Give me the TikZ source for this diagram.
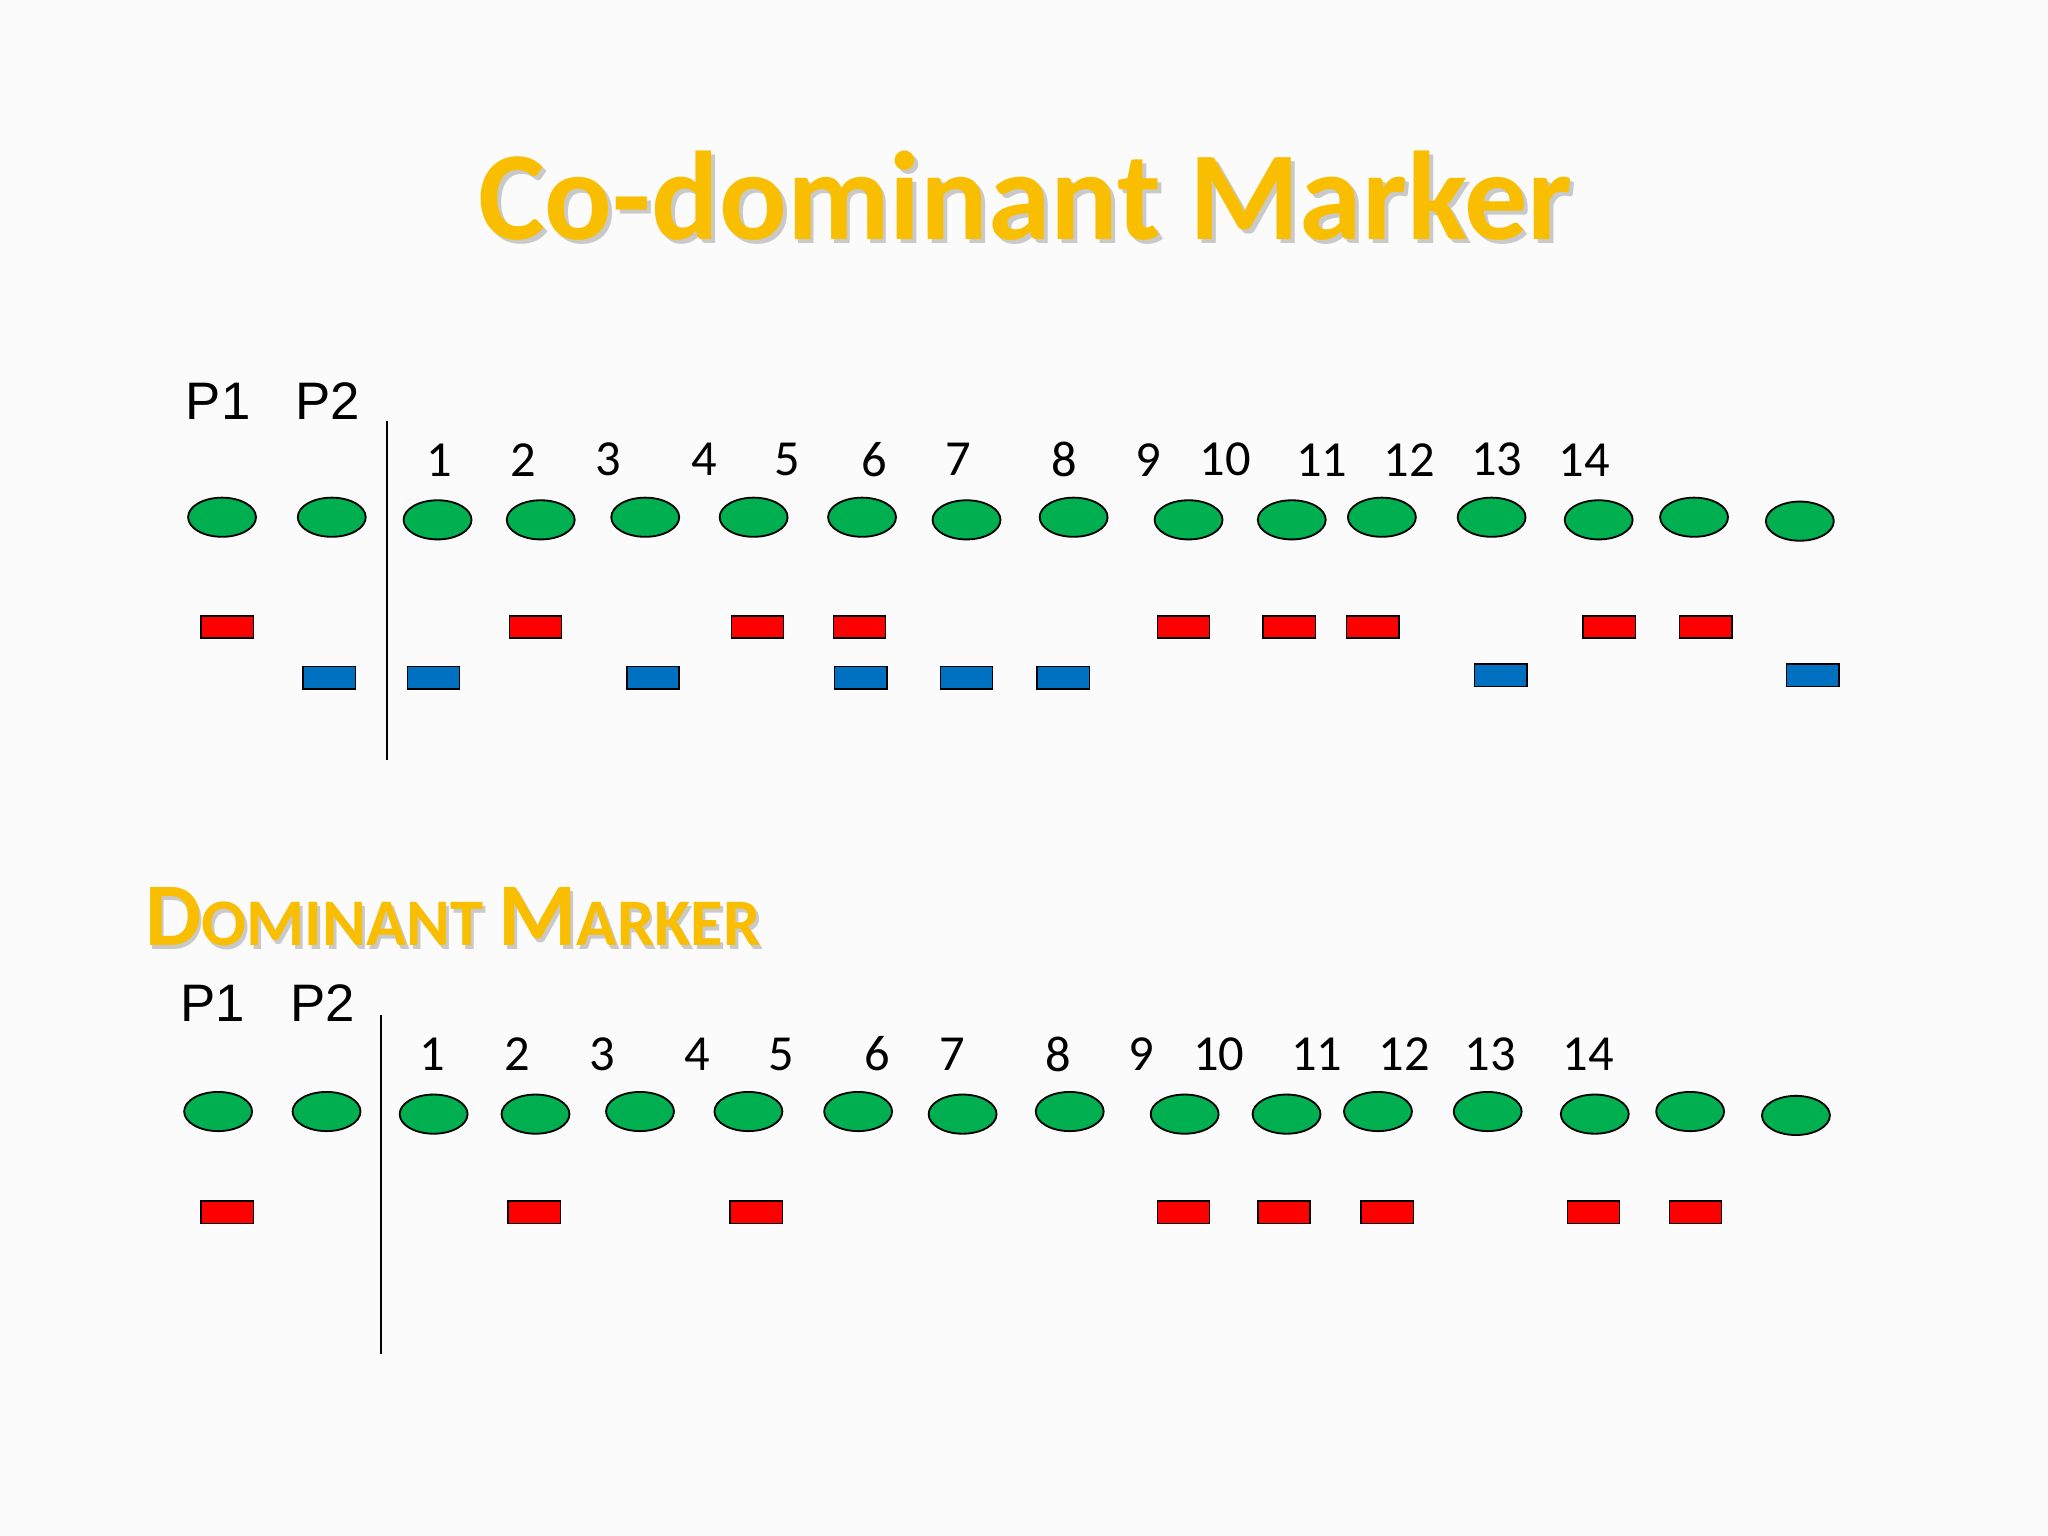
\documentclass[tikz,border=0pt]{standalone}
\usepackage{fontspec}
\usetikzlibrary{shapes.geometric}
\setmainfont{Carlito}
\newfontfamily\pfont{Liberation Sans}
\definecolor{gold}{RGB}{250,190,0}
\definecolor{gfill}{RGB}{0,176,80}
\definecolor{bfill}{RGB}{0,112,192}
\begin{document}
\begin{tikzpicture}[x=0.02cm,y=-0.02cm,
  ell/.style={ellipse,draw=black,line width=0.8pt,fill=gfill,minimum width=1.04cm,minimum height=0.6cm,inner sep=0pt},
  rbox/.style={rectangle,draw=black,line width=0.6pt,fill=red,minimum width=0.8cm,minimum height=0.34cm,inner sep=0pt},
  bbox/.style={rectangle,draw=black,line width=0.6pt,fill=bfill,minimum width=0.8cm,minimum height=0.34cm,inner sep=0pt},
  num/.style={font=\fontsize{22}{24}\selectfont},
  plab/.style={font=\pfont\fontsize{23}{26}\selectfont}]
\useasboundingbox (0,0) rectangle (1568,1176);
\fill[white!97!gray] (0,0) rectangle (1568,1176);
% titles
\node[text=black!40,opacity=0.5,font=\bfseries\fontsize{55}{60}\selectfont] at (788,153) {Co-dominant Marker};
\node (t1) [text=gold,font=\bfseries\fontsize{55}{60}\selectfont] at (785,150) {Co-dominant Marker};
\node[anchor=west,text=black!40,opacity=0.5,font=\bfseries\fontsize{39}{42}\selectfont] at (107,705) {D\fontsize{29}{32}\selectfont OMINANT \fontsize{39}{42}\selectfont M\fontsize{29}{32}\selectfont ARKER};
\node (t2) [anchor=west,text=gold,font=\bfseries\fontsize{39}{42}\selectfont] at (105,702) {D\fontsize{29}{32}\selectfont OMINANT \fontsize{39}{42}\selectfont M\fontsize{29}{32}\selectfont ARKER};
% top panel
\node (ap1) [plab] at (167,307) {P1};
\node (ap2) [plab] at (251,307) {P2};
\coordinate (al1) at (296,322); \coordinate (al2) at (296,582);
\draw[line width=0.8pt] (al1) -- (al2);
\foreach \x [count=\i] in {336,401,466,539,603,669,734,815,879,938,1012,1079,1146,1213}
  \node (an\i) [num] at (\x,352) {\i};
\foreach \x/\y [count=\i] in {170/396,254/396,335/398,414/398,494/396,577/396,660/396,740/398,822/396,910/398,989/398,1058/396,1142/396,1224/398,1297/396,1378/399}
  \node (ae\i) [ell] at (\x,\y) {};
\foreach \x [count=\i] in {174,410,580,658,906,987,1051,1232,1306}
  \node (ar\i) [rbox] at (\x,480) {};
\foreach \x/\y [count=\i] in {252/519,332/519,500/519,659/519,740/519,814/519,1149/517,1388/517}
  \node (ab\i) [bbox] at (\x,\y) {};
% bottom panel
\node (bp1) [plab] at (163,768) {P1};
\node (bp2) [plab] at (247,768) {P2};
\coordinate (bl1) at (292,777); \coordinate (bl2) at (292,1037);
\draw[line width=0.8pt] (bl1) -- (bl2);
\foreach \x [count=\i] in {331,396,461,534,598,672,729,810,874,933,1008,1075,1141,1216}
  \node (bn\i) [num] at (\x,807) {\i};
\foreach \x/\y [count=\i] in {167/851,250/851,332/853,410/853,490/851,573/851,657/851,737/853,819/851,907/853,985/853,1055/851,1139/851,1221/853,1294/851,1375/854}
  \node (be\i) [ell] at (\x,\y) {};
\foreach \x [count=\i] in {174,409,579,906,983,1062,1220,1298}
  \node (br\i) [rbox] at (\x,928) {};
\end{tikzpicture}
\end{document}
